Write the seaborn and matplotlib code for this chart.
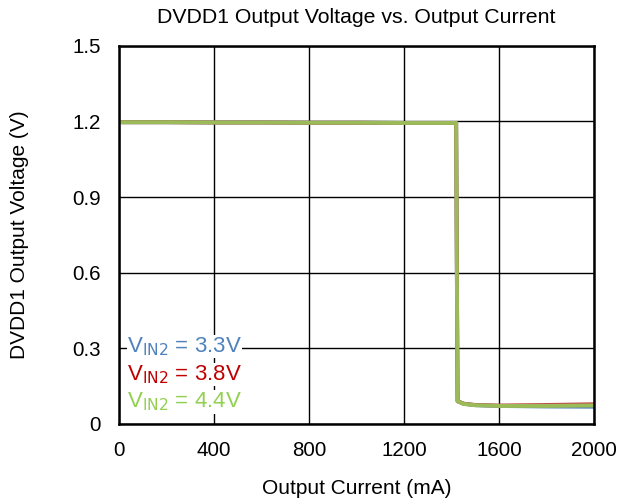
import matplotlib
matplotlib.use("Agg")
import matplotlib.pyplot as plt
import seaborn as sns
import pandas as pd

sns.set_theme(style="white")
plt.rcParams['font.family'] = ['Liberation Sans', 'DejaVu Sans']

current = [10, 200, 400, 600, 800, 1000, 1200, 1400, 1419, 1422, 1425, 1450, 1500, 1600, 1800, 2000]
v_33 = [1.197, 1.197, 1.196, 1.196, 1.195, 1.195, 1.194, 1.194, 1.194, 0.60, 0.090, 0.080, 0.074, 0.071, 0.069, 0.068]
v_38 = [1.197, 1.197, 1.196, 1.196, 1.195, 1.195, 1.194, 1.194, 1.194, 0.60, 0.090, 0.080, 0.075, 0.073, 0.075, 0.078]
v_44 = [1.197, 1.197, 1.196, 1.196, 1.195, 1.195, 1.194, 1.194, 1.194, 0.60, 0.090, 0.079, 0.074, 0.071, 0.071, 0.073]
series_labels = ["3.3V", "3.8V", "4.4V"]
line_colors = ["#4F81BD", "#C0504D", "#9BBB59"]
text_colors = ["#4F81BD", "#C00000", "#92D050"]
x_ticks = [0, 400, 800, 1200, 1600, 2000]
y_ticks = [0, 0.3, 0.6, 0.9, 1.2, 1.5]
y_tick_labels = ["0", "0.3", "0.6", "0.9", "1.2", "1.5"]

rows = []
for lab, vals in zip(series_labels, [v_33, v_38, v_44]):
    for c, v in zip(current, vals):
        rows.append({"current": c, "voltage": v, "vin": lab})
df = pd.DataFrame(rows)

fig = plt.figure(figsize=(6.17, 5.04), dpi=100)
ax = fig.add_axes([0.193, 0.159, 0.770, 0.750])

sns.lineplot(data=df, x="current", y="voltage", hue="vin", palette=line_colors,
             estimator=None, linewidth=2.8, legend=False, ax=ax)

ax.set_xlim(0, 2000)
ax.set_ylim(0, 1.5)
ax.set_xticks(x_ticks)
ax.set_yticks(y_ticks)
ax.set_yticklabels(y_tick_labels)
ax.grid(True, color="black", linewidth=1.0)
ax.set_axisbelow(True)
for s in ax.spines.values():
    s.set_color("black")
    s.set_linewidth(1.8)
ax.tick_params(axis="both", labelsize=14.8, colors="black", length=0)
ax.tick_params(axis="x", pad=12)
ax.tick_params(axis="y", pad=13)
ax.set_xlabel("Output Current (mA)", fontsize=15, color="black")
ax.set_ylabel("DVDD1 Output Voltage (V)", fontsize=15, color="black")
ax.xaxis.set_label_coords(0.5, -0.145)
ax.yaxis.set_label_coords(-0.19, 0.5)
ax.set_title("DVDD1 Output Voltage vs. Output Current", fontsize=15.3, color="black", pad=16.5)

ypos = [0.204, 0.130, 0.058]
for lab, col, yp in zip(series_labels, text_colors, ypos):
    ax.text(0.017, yp, r"V$_{\mathrm{IN2}}$ = " + lab, transform=ax.transAxes,
            color=col, fontsize=16, va="center", ha="left",
            bbox=dict(facecolor="white", edgecolor="none", pad=0.3))

fig.savefig("out.png", dpi=100)
